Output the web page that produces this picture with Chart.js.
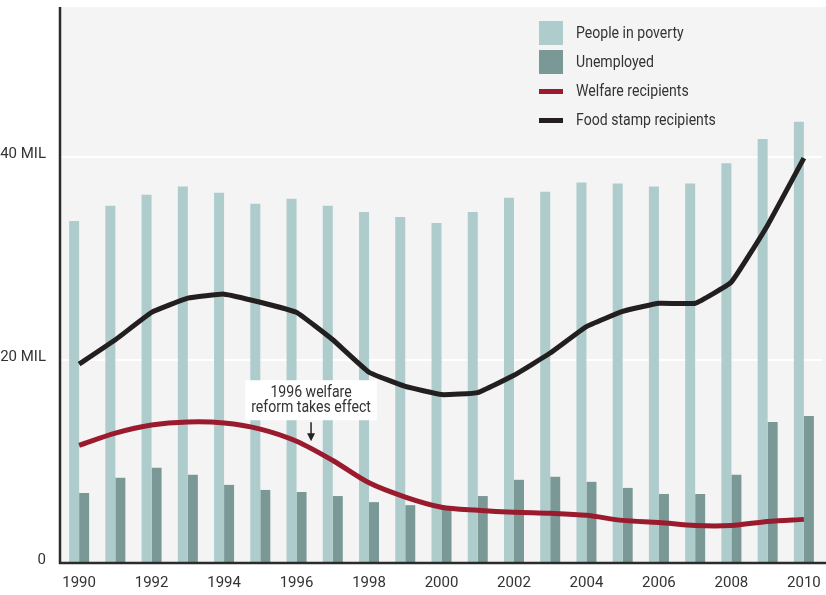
<!DOCTYPE html>
<html>
<head>
<meta charset="utf-8">
<script src="https://cdn.jsdelivr.net/npm/chart.js@4/dist/chart.umd.min.js"></script>
<style>
  html, body { margin: 0; padding: 0; background: #ffffff; }
  #wrap { width: 826px; height: 595px; position: relative; }
</style>
</head>
<body>
<div id="wrap"><canvas id="miGrafico"></canvas></div>
<script>
// ===============================
// Datos
// ===============================
const years = ['1990', '1991', '1992', '1993', '1994', '1995', '1996', '1997', '1998', '1999', '2000',
  '2001', '2002', '2003', '2004', '2005', '2006', '2007', '2008', '2009', '2010'];

// millones de personas
const povertyValues = [33.7, 35.2, 36.3, 37.1, 36.5, 35.4, 35.9, 35.2, 34.6, 34.1, 33.5,
  34.6, 36.0, 36.6, 37.5, 37.4, 37.1, 37.4, 39.4, 41.8, 43.5];
const unemployedValues = [6.9, 8.4, 9.4, 8.7, 7.7, 7.2, 7.0, 6.6, 6.0, 5.7, 5.4,
  6.6, 8.2, 8.5, 8.0, 7.4, 6.8, 6.8, 8.7, 13.9, 14.5];
const welfareValues = [11.6, 12.8, 13.6, 13.9, 13.8, 13.2, 12.0, 10.1, 7.9, 6.5, 5.5,
  5.2, 5.0, 4.9, 4.7, 4.2, 4.0, 3.7, 3.7, 4.1, 4.3];
const foodStampValues = [19.6, 22.0, 24.7, 26.1, 26.5, 25.7, 24.7, 22.0, 18.8, 17.4, 16.6,
  16.8, 18.5, 20.7, 23.3, 24.8, 25.6, 25.6, 27.7, 33.3, 39.9];

const yTickValues = [0, 20, 40];
const yTickLabels = ['0', '20 MIL', '40 MIL'];

// nota sobre la reforma (posicion en unidades del grafico)
const noteLines = ['1996 welfare', 'reform takes effect'];
const noteIndex = 6.4;
const noteValue = 12.0;

const FONT = "'Roboto', 'Liberation Sans', sans-serif";
const TEXT = '#333333';

// texto algo estrecho, como el original
function textoEstrecho(ctx, txt, x, y, align) {
  const k = 0.88;
  ctx.save();
  ctx.translate(x, y);
  ctx.scale(k, 1);
  ctx.textAlign = align;
  ctx.fillText(txt, 0, 0);
  ctx.restore();
}

// ===============================
// Plugin: fondo, ejes, leyenda y nota
// ===============================
const decoracion = {
  id: 'decoracion',
  beforeDraw(chart) {
    const { ctx, chartArea } = chart;
    ctx.save();
    ctx.fillStyle = '#f4f4f4';
    ctx.fillRect(chartArea.left - 2, chartArea.top, chart.width - chartArea.left + 2, chartArea.bottom - chartArea.top);
    ctx.restore();
  },
  afterDatasetsDraw(chart) {
    const { ctx, chartArea, scales } = chart;
    ctx.save();
    // ejes
    ctx.strokeStyle = '#2b2b2b';
    ctx.lineWidth = 2.5;
    ctx.beginPath();
    ctx.moveTo(chartArea.left - 1, chartArea.top);
    ctx.lineTo(chartArea.left - 1, chartArea.bottom);
    ctx.lineTo(chart.width, chartArea.bottom);
    ctx.stroke();

    // leyenda
    const lx = 539, ly = 21, row = 29;
    ctx.font = '16px ' + FONT;
    ctx.textBaseline = 'middle';
    [0, 1, 2, 3].forEach(function (i, k) {
      const ds = chart.data.datasets.find(d => d.legendIndex === i);
      const cy = ly + 12 + k * row;
      if (ds.type === 'bar') {
        ctx.fillStyle = ds.backgroundColor;
        ctx.fillRect(lx, cy - 12, 24, 24);
      } else {
        ctx.fillStyle = ds.borderColor;
        ctx.fillRect(lx, cy - 2, 24, 5);
      }
      ctx.fillStyle = TEXT;
      textoEstrecho(ctx, ds.label, lx + 37, cy + 1, 'left');
    });

    // nota
    const x = scales.x.getPixelForValue(noteIndex);
    const tipY = scales.y.getPixelForValue(noteValue);
    ctx.font = '16px ' + FONT;
    const w = Math.max(...noteLines.map(t => ctx.measureText(t).width)) * 0.88 + 12;
    const boxBottom = tipY - 21;
    const boxTop = boxBottom - 40;
    ctx.fillStyle = '#ffffff';
    ctx.fillRect(x - w / 2, boxTop, w, 40);
    ctx.fillStyle = TEXT;
    textoEstrecho(ctx, noteLines[0], x, boxTop + 13, 'center');
    textoEstrecho(ctx, noteLines[1], x, boxTop + 28, 'center');
    // flecha
    ctx.strokeStyle = '#222222';
    ctx.lineWidth = 1.5;
    ctx.beginPath();
    ctx.moveTo(x, boxBottom + 2);
    ctx.lineTo(x, tipY - 6);
    ctx.stroke();
    ctx.fillStyle = '#222222';
    ctx.beginPath();
    ctx.moveTo(x - 4, tipY - 8);
    ctx.lineTo(x + 4, tipY - 8);
    ctx.lineTo(x, tipY);
    ctx.closePath();
    ctx.fill();
    ctx.restore();
  }
};

// ===============================
// Grafico
// ===============================
document.addEventListener('DOMContentLoaded', function () {
  const ctx = document.getElementById('miGrafico').getContext('2d');
  new Chart(ctx, {
    data: {
      labels: years,
      datasets: [
        {
          type: 'line',
          label: 'Food stamp recipients',
          legendIndex: 3,
          data: foodStampValues,
          borderColor: '#231f20',
          borderWidth: 5,
          tension: 0.1,
          pointRadius: 0,
          borderCapStyle: 'butt',
          order: 0
        },
        {
          type: 'line',
          label: 'Welfare recipients',
          legendIndex: 2,
          data: welfareValues,
          borderColor: '#9b1b2e',
          borderWidth: 5,
          tension: 0.3,
          pointRadius: 0,
          borderCapStyle: 'butt',
          order: 1
        },
        {
          type: 'bar',
          label: 'People in poverty',
          legendIndex: 0,
          data: povertyValues,
          backgroundColor: '#aecccc',
          barPercentage: 1.0,
          categoryPercentage: 0.552,
          order: 2
        },
        {
          type: 'bar',
          label: 'Unemployed',
          legendIndex: 1,
          data: unemployedValues,
          backgroundColor: '#7a9896',
          barPercentage: 1.0,
          categoryPercentage: 0.552,
          order: 2
        }
      ]
    },
    options: {
      responsive: true,
      maintainAspectRatio: false,
      animation: false,
      layout: { padding: { top: 7, right: 4, left: 0, bottom: 0 } },
      plugins: {
        legend: { display: false },
        tooltip: { enabled: false }
      },
      scales: {
        x: {
          offset: true,
          grid: { display: false, drawTicks: false },
          border: { display: false },
          afterFit: function (scale) {
            scale.height = 32;
            scale.paddingLeft = 0;
            scale.paddingRight = 0;
          },
          ticks: {
            autoSkip: false,
            maxRotation: 0,
            padding: 11,
            color: TEXT,
            font: { family: FONT, size: 15 },
            callback: function (value, index) {
              return index % 2 === 0 ? years[index] : '';
            }
          }
        },
        y: {
          min: 0,
          max: 54.8,
          grid: {
            color: function (c) { return c.tick.value === 0 ? 'rgba(0,0,0,0)' : '#ffffff'; },
            lineWidth: 2,
            drawTicks: false
          },
          border: { display: false },
          afterFit: function (scale) {
            scale.width = 61;
            scale.paddingTop = 0;
            scale.paddingBottom = 0;
          },
          afterBuildTicks: function (scale) {
            scale.ticks = yTickValues.map(v => ({ value: v }));
          },
          ticks: {
            padding: 15,
            color: TEXT,
            font: { family: FONT, size: 15 },
            labelOffset: -3,
            callback: function (value) {
              return yTickLabels[yTickValues.indexOf(value)];
            }
          }
        }
      }
    },
    plugins: [decoracion]
  });
});
</script>
</body>
</html>
